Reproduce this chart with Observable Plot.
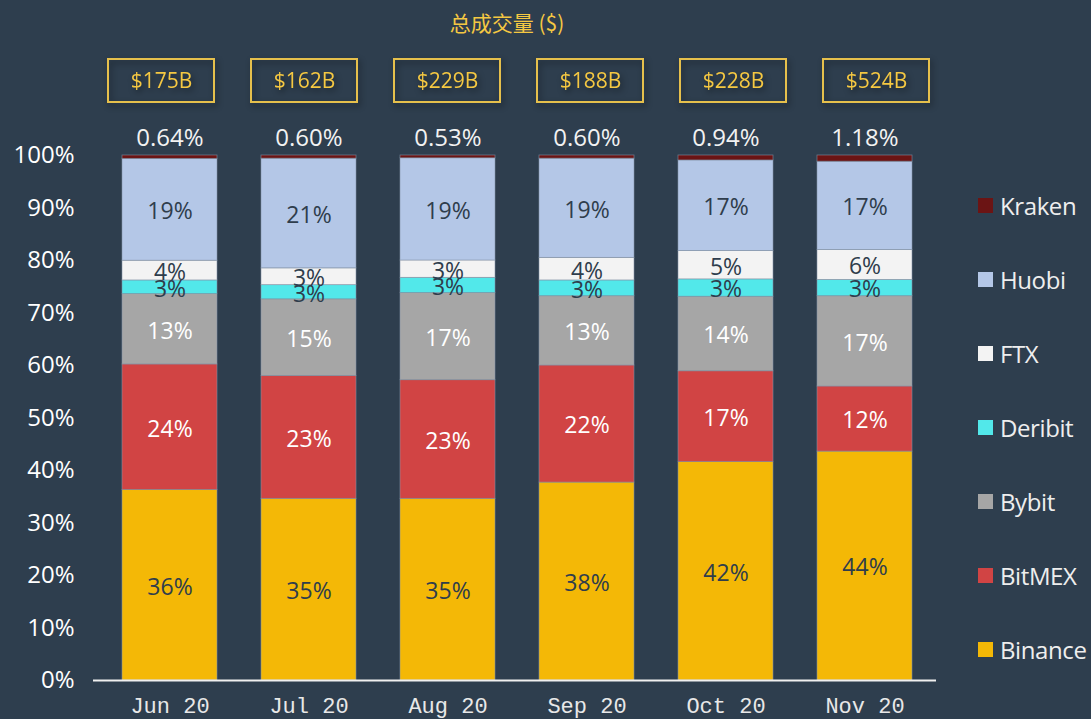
<!DOCTYPE html>
<html>
<head>
<meta charset="utf-8">
<script src="https://cdn.jsdelivr.net/npm/d3@7"></script>
<script src="https://cdn.jsdelivr.net/npm/@observablehq/plot@0.6"></script>
<style>
html, body { margin: 0; padding: 0; background: #2e3e4e; }
#wrap { position: relative; width: 1091px; height: 719px; overflow: hidden; background: #2e3e4e; font-family: "Open Sans", sans-serif; }
#title { position: absolute; top: 8px; left: 0; width: 1014px; text-align: center; color: #f5c842; font-size: 21px; line-height: 28px; font-family: "Noto Sans CJK SC", "Open Sans", sans-serif; }
#boxes { position: absolute; top: 50px; left: 0; }
#boxes svg { filter: drop-shadow(2px 3px 3px rgba(0,0,0,0.45)); }
#chart { position: absolute; top: 110px; left: 0; }
#legend { position: absolute; left: 978px; top: 169px; }
.item { height: 73.9px; display: flex; align-items: center; color: #eeeeee; font-size: 24px; letter-spacing: -0.4px; }
.sw { width: 15px; height: 15px; margin-right: 7px; flex: none; }
</style>
</head>
<body>
<div id="wrap">
  <div id="title"></div>
  <div id="boxes"></div>
  <div id="chart"></div>
  <div id="legend"></div>
</div>
<script>
// ---- data ----
const titleText = "总成交量 ($)";
const months = ["Jun 20", "Jul 20", "Aug 20", "Sep 20", "Oct 20", "Nov 20"];
const totals = [175, 162, 229, 188, 228, 524]; // $B
const exchanges = ["Binance", "BitMEX", "Bybit", "Deribit", "FTX", "Huobi", "Kraken"];
const colors = ["#f4b806", "#d14444", "#a6a6a6", "#52e8ea", "#f3f3f3", "#b4c7e7", "#6b1414"];
// share of volume (%) per month
const binance = [36.3, 34.6, 34.6, 37.7, 41.6, 43.6];
const bitmex  = [23.9, 23.4, 22.6, 22.3, 17.3, 12.4];
const bybit   = [13.4, 14.6, 16.6, 13.2, 14.2, 17.2];
const deribit = [2.6, 2.7, 2.9, 3.0, 3.3, 3.1];
const ftx     = [3.76, 3.2, 3.3, 4.3, 5.4, 5.7];
const huobi   = [19.4, 20.9, 19.47, 18.9, 17.26, 16.82];
const kraken  = [0.64, 0.60, 0.53, 0.60, 0.94, 1.18];

const series = [binance, bitmex, bybit, deribit, ftx, huobi, kraken];
const rows = [];
exchanges.forEach((ex, i) => months.forEach((m, j) => rows.push({month: m, exchange: ex, share: series[i][j]})));
const totalRows = months.map((m, j) => ({month: m, total: totals[j]}));

const fmt0 = d3.format(".0f");
const fmt2 = d3.format(".2f");
const darkLabel = new Set(["Binance", "Deribit", "FTX", "Huobi"]);
const whiteLabel = new Set(["BitMEX", "Bybit"]);

document.getElementById("title").textContent = titleText;

// ---- totals boxes ----
const boxes = Plot.plot({
  width: 1091, height: 60,
  marginLeft: 87, marginRight: 142, marginTop: 9, marginBottom: 8,
  x: {domain: months, paddingInner: 0.262, paddingOuter: 0.131, axis: null},
  style: {background: "transparent", overflow: "visible"},
  marks: [
    Plot.cell(totalRows, {x: "month", fill: "none", stroke: "#e6c04c", strokeWidth: 2}),
    Plot.text(totalRows, {x: "month", frameAnchor: "middle", text: d => "$" + d.total + "B",
      fill: "#f5c842", fontSize: 21, fontFamily: "Open Sans"})
  ]
});
document.getElementById("boxes").appendChild(boxes);

// ---- main stacked chart ----
const stackOpts = {x: "month", y: "share", z: "exchange", order: exchanges};
const chart = Plot.plot({
  width: 1091, height: 609,
  marginLeft: 93, marginRight: 155, marginTop: 45, marginBottom: 39,
  style: {background: "transparent", overflow: "visible", fontFamily: "Open Sans"},
  x: {domain: months, paddingInner: 0.32, paddingOuter: 0.16, insetLeft: 6, insetRight: 1},
  y: {domain: [0, 100]},
  color: {domain: exchanges, range: colors},
  marks: [
    Plot.barY(rows, {...stackOpts, fill: "exchange", stroke: "#8594a6", strokeWidth: 0.8, strokeOpacity: 0.7}),
    Plot.text(rows, Plot.stackY({...stackOpts,
      text: d => darkLabel.has(d.exchange) ? fmt0(d.share) + "%" : null,
      fill: "#2f3d4c", fontSize: 23, dy: 2})),
    Plot.text(rows, Plot.stackY({...stackOpts,
      text: d => whiteLabel.has(d.exchange) ? fmt0(d.share) + "%" : null,
      fill: "#ffffff", fontSize: 23, dy: 2})),
    Plot.text(rows, Plot.stackY2({...stackOpts,
      text: d => d.exchange === "Kraken" ? fmt2(d.share) + "%" : null,
      fill: "#f2f2f2", fontSize: 24, dy: -17})),
    Plot.axisY({ticks: d3.range(0, 101, 10), tickFormat: d => d + "%", tickSize: 0, tickPadding: 19,
      label: null, fontSize: 24, fill: "#ffffff", fontFamily: "Open Sans"}),
    Plot.axisX({tickSize: 0, tickPadding: 17, label: null, fontSize: 22, fill: "#e8e8e8",
      fontFamily: "Liberation Mono"}),
    Plot.ruleY([0], {stroke: "#f0f0f0", strokeWidth: 2})
  ]
});
document.getElementById("chart").appendChild(chart);

// ---- legend ----
const legend = document.getElementById("legend");
exchanges.slice().reverse().forEach(ex => {
  const item = document.createElement("div");
  item.className = "item";
  const sw = document.createElement("span");
  sw.className = "sw";
  sw.style.background = colors[exchanges.indexOf(ex)];
  const label = document.createElement("span");
  label.textContent = ex;
  item.appendChild(sw);
  item.appendChild(label);
  legend.appendChild(item);
});
</script>
</body>
</html>
